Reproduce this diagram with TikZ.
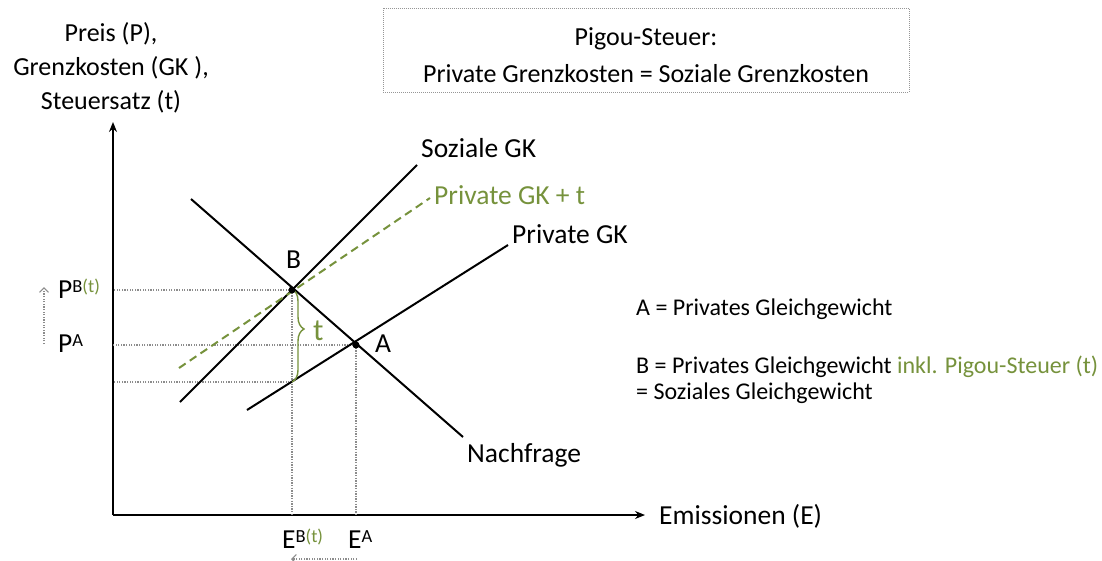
\documentclass[tikz,border=0pt]{standalone}
\usepackage{fontspec}
\setmainfont{Carlito}
\usetikzlibrary{arrows.meta,decorations.pathreplacing}
\definecolor{olive}{RGB}{118,146,60}
\definecolor{guide}{RGB}{140,140,140}
\definecolor{frame}{RGB}{150,150,150}
% superscript set a little smaller and raised
\newcommand\hochst[1]{\raisebox{6pt}{\fontsize{18.5}{18}\selectfont #1}}
\begin{document}
\begin{tikzpicture}[x=1pt,y=-1pt,
  lbl/.style={inner sep=0pt,font=\fontsize{27.5}{32}\selectfont},
  head/.style={inner sep=0pt,font=\fontsize{26}{32}\selectfont},
  small/.style={inner sep=0pt,font=\fontsize{24}{28}\selectfont},
  curve/.style={line width=2pt,black},
  axis/.style={line width=1.3pt,-{Stealth[length=10pt,width=8pt]}},
  guideline/.style={line width=1.1pt,guide,dash pattern=on 1.3pt off 1.3pt},
  movearrow/.style={line width=1.1pt,guide,dash pattern=on 1.3pt off 1.3pt,-{Straight Barb[length=4.5pt,width=9pt]}},
  dot/.style={circle,fill=black,inner sep=0pt,minimum size=7pt}]
\useasboundingbox (0,0) rectangle (1102,560);
\clip (0,0) rectangle (1102,560);

% axes
\coordinate (O) at (113,515);
\coordinate (ytip) at (113,122);
\coordinate (xtip) at (645,515);
\draw[axis] (O) -- (ytip);
\draw[axis] (O) -- (xtip);

% curve end points
\coordinate (n1) at (191,199);  \coordinate (n2) at (463,437);
\coordinate (s1) at (180,402);  \coordinate (s2) at (417,165);
\coordinate (t1) at (179,368);  \coordinate (t2) at (430,198);
\coordinate (p1) at (247,410);  \coordinate (p2) at (508,245);
\coordinate (B) at (292,290);
\coordinate (A) at (356,345);
\coordinate (L) at (292,382);

% guide lines to the axes
\draw[guideline] (B) -- (B -| O);
\draw[guideline] (A) -- (A -| O);
\draw[guideline] (L) -- (L -| O);
\draw[guideline] (B) -- (B |- O);
\draw[guideline] (A) -- (A |- O);

% curves
\draw[curve] (n1) -- (n2);
\draw[curve] (s1) -- (s2);
\draw[curve] (p1) -- (p2);
\draw[line width=2pt,olive,dash pattern=on 8pt off 5pt] (t1) -- (t2);

% tax brace
\draw[olive,line width=1.4pt,decorate,decoration={brace,amplitude=12pt,aspect=0.43}] ([yshift=1pt]B) -- (L);
\node[lbl,anchor=base west,olive,font=\fontsize{31}{32}\selectfont] (tlab) at (313,340) {t};

% equilibria
\node[dot] (Bdot) at (B) {};
\node[dot] (Adot) at (A) {};
\node[lbl,anchor=base west] (Blab) at (286,268) {B};
\node[lbl,anchor=base west] (Alab) at (375,352) {A};

% curve labels
\node[lbl,anchor=base west] (sozlab) at (421,157) {Soziale GK};
\node[lbl,anchor=base west,olive] (taxlab) at (434,204) {Private GK + t};
\node[lbl,anchor=base west] (privlab) at (512,243) {Private GK};
\node[lbl,anchor=base west] (nachlab) at (467,462) {Nachfrage};

% axis labels
\node[head,anchor=base] (ylab1) at (111,41) {Preis (P),};
\node[head,anchor=base] (ylab2) at (111,75) {Grenzkosten (GK ),};
\node[head,anchor=base] (ylab3) at (111,109) {Steuersatz (t)};
\node[lbl,anchor=base west] (xlab) at (659,524) {Emissionen (E)};

% prices and quantities
\node[lbl,anchor=base west] (PB) at (58,298) {P\hochst{B\textcolor{olive}{(t)}}};
\node[lbl,anchor=base west] (PA) at (58,352.5) {P\hochst{A}};
\node[lbl,anchor=base west] (EB) at (282,548) {E\hochst{B\textcolor{olive}{(t)}}};
\node[lbl,anchor=base west] (EA) at (348,548) {E\hochst{A}};
\coordinate (pfrom) at (44,344);
\coordinate (pto) at (44,287);
\draw[movearrow] (pfrom) -- (pto);
\coordinate (efrom) at (357,559);
\coordinate (eto) at (291,559);
\draw[movearrow] (efrom) -- (eto);

% heading box
\draw[frame,line width=1pt,dash pattern=on 1pt off 1pt] (383,8) rectangle (909,92);
\node[head,anchor=base] (head1) at (646,45) {Pigou-Steuer:};
\node[head,anchor=base] (head2) at (646,82) {Private Grenzkosten = Soziale Grenzkosten};

% legend
\node[small,anchor=base west] (legA) at (636,315) {A = Privates Gleichgewicht};
\node[small,anchor=base west] (legB) at (636,373) {B = Privates Gleichgewicht \textcolor{olive}{inkl. Pigou-Steuer (t)}};
\node[small,anchor=base west] (legS) at (636,399) {= Soziales Gleichgewicht};
\end{tikzpicture}
\end{document}
